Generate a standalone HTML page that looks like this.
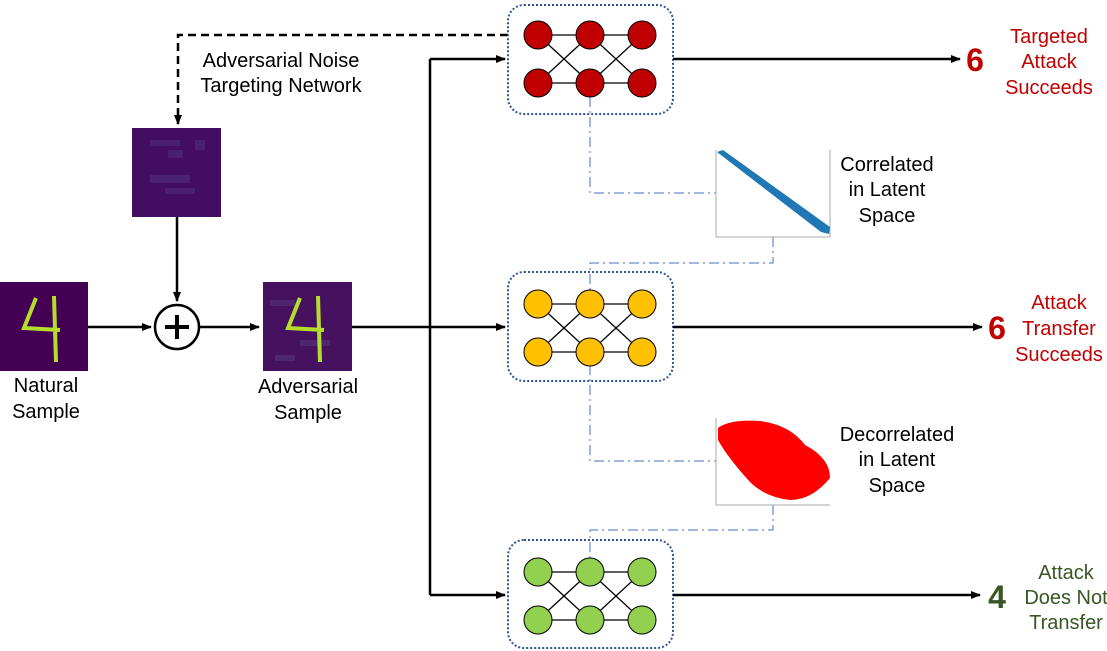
<!DOCTYPE html>
<html><head><style>body{margin:0;background:#fff}svg{display:block}text{font-family:"Liberation Sans",sans-serif}</style></head><body>
<svg width="1107" height="651" viewBox="0 0 1107 651" xmlns="http://www.w3.org/2000/svg">
<defs>
<marker id="a" markerWidth="10" markerHeight="10" refX="9" refY="5" orient="auto" markerUnits="userSpaceOnUse"><path d="M0,1 L10,5 L0,9 z" fill="#000"/></marker>
<g id="net">
<path d="M538,35 H642 M538,83 H642 M538,35 L590,83 M538,83 L590,35 M590,35 L642,83 M590,83 L642,35" stroke="#000" stroke-width="1.3" fill="none"/>
</g>
</defs>
<path d="M508,35 H178 V124" stroke="#000" stroke-width="2.5" fill="none" stroke-dasharray="8,5" marker-end="url(#a)"/>
<text x="281" y="67" font-size="20" text-anchor="middle">Adversarial Noise</text>
<text x="281" y="92" font-size="20" text-anchor="middle">Targeting Network</text>
<rect x="132" y="128" width="89" height="89" fill="#430d62"/>
<path d="M150,140h30v6h-30zM168,150h15v8h-15zM150,175h40v8h-40zM165,188h30v6h-30zM195,140h10v10h-10z" fill="#4b1f72"/>
<path d="M177,217 V301" stroke="#000" stroke-width="2.5" marker-end="url(#a)"/>
<rect x="0" y="282" width="88" height="89" fill="#440154"/>
<path d="M36,298 L24,328 L60,330 M54,296 L56,362" stroke="#b5de2b" stroke-width="4" fill="none"/>
<text x="46" y="392" font-size="20" text-anchor="middle">Natural</text>
<text x="46" y="418" font-size="20" text-anchor="middle">Sample</text>
<path d="M88,327 H151" stroke="#000" stroke-width="2.5" marker-end="url(#a)"/>
<circle cx="177" cy="327" r="22" fill="#fff" stroke="#000" stroke-width="2.5"/>
<path d="M165,327 H189 M177,315 V339" stroke="#000" stroke-width="4"/>
<path d="M199,327 H259" stroke="#000" stroke-width="2.5" marker-end="url(#a)"/>
<rect x="263" y="282" width="89" height="89" fill="#46125f"/>
<path d="M270,300h25v6h-25zM300,340h30v6h-30zM275,355h20v6h-20z" fill="#4f2670"/>
<path d="M300,298 L288,328 L324,330 M318,296 L320,362" stroke="#b5de2b" stroke-width="4" fill="none"/>
<text x="308" y="393" font-size="20" text-anchor="middle">Adversarial</text>
<text x="308" y="419" font-size="20" text-anchor="middle">Sample</text>
<path d="M352,327 H430" stroke="#000" stroke-width="2.5" fill="none"/>
<path d="M430,59 V595" stroke="#000" stroke-width="2.5" fill="none"/>
<path d="M430,59 H505" stroke="#000" stroke-width="2.5" marker-end="url(#a)"/>
<path d="M430,327 H505" stroke="#000" stroke-width="2.5" marker-end="url(#a)"/>
<path d="M430,595 H505" stroke="#000" stroke-width="2.5" marker-end="url(#a)"/>
<g stroke="#4472c4" stroke-width="1" fill="none" stroke-dasharray="10,4,2,4">
<path d="M590,97 V193 H716"/><path d="M773,237 V263 H590 V290"/>
<path d="M590,365 V461 H716"/><path d="M773,505 V530 H590 V558"/>
</g>
<rect x="508" y="5" width="165" height="109" rx="16" fill="none" stroke="#2f5597" stroke-width="2" stroke-dasharray="2,2"/>
<use href="#net"/>
<g fill="#c00000" stroke="#000" stroke-width="1"><circle cx="538" cy="35" r="14"/><circle cx="590" cy="35" r="14"/><circle cx="642" cy="35" r="14"/><circle cx="538" cy="83" r="14"/><circle cx="590" cy="83" r="14"/><circle cx="642" cy="83" r="14"/></g>
<rect x="508" y="272" width="165" height="109" rx="16" fill="none" stroke="#2f5597" stroke-width="2" stroke-dasharray="2,2"/>
<use href="#net" y="269"/>
<g fill="#ffc000" stroke="#000" stroke-width="1"><circle cx="538" cy="304" r="14"/><circle cx="590" cy="304" r="14"/><circle cx="642" cy="304" r="14"/><circle cx="538" cy="352" r="14"/><circle cx="590" cy="352" r="14"/><circle cx="642" cy="352" r="14"/></g>
<rect x="508" y="540" width="165" height="108" rx="16" fill="none" stroke="#2f5597" stroke-width="2" stroke-dasharray="2,2"/>
<use href="#net" y="537"/>
<g fill="#92d050" stroke="#000" stroke-width="1"><circle cx="538" cy="572" r="14"/><circle cx="590" cy="572" r="14"/><circle cx="642" cy="572" r="14"/><circle cx="538" cy="620" r="14"/><circle cx="590" cy="620" r="14"/><circle cx="642" cy="620" r="14"/></g>
<path d="M673,59 H960" stroke="#000" stroke-width="2.5" marker-end="url(#a)"/>
<path d="M673,327 H982" stroke="#000" stroke-width="2.5" marker-end="url(#a)"/>
<path d="M673,595 H980" stroke="#000" stroke-width="2.5" marker-end="url(#a)"/>
<text x="975" y="71" font-size="32" font-weight="bold" fill="#c00000" text-anchor="middle">6</text>
<g font-size="20" fill="#c00000" text-anchor="middle"><text x="1049" y="43">Targeted</text><text x="1049" y="68">Attack</text><text x="1049" y="94">Succeeds</text></g>
<text x="997" y="339" font-size="32" font-weight="bold" fill="#c00000" text-anchor="middle">6</text>
<g font-size="20" fill="#c00000" text-anchor="middle"><text x="1059" y="309">Attack</text><text x="1059" y="335">Transfer</text><text x="1059" y="361">Succeeds</text></g>
<text x="997" y="608" font-size="32" font-weight="bold" fill="#375623" text-anchor="middle">4</text>
<g font-size="20" fill="#375623" text-anchor="middle"><text x="1066" y="579">Attack</text><text x="1066" y="604">Does Not</text><text x="1066" y="629">Transfer</text></g>
<path d="M716,150 V237 H830 V150" stroke="#aaa" stroke-width="1" fill="none"/>
<path d="M717,152 L723,150 L830,227 L829,234 L821,232 Z" fill="#1f77b4"/>
<g font-size="20" text-anchor="middle"><text x="887" y="171">Correlated</text><text x="887" y="196">in Latent</text><text x="887" y="222">Space</text></g>
<path d="M716,418 V505 H830" stroke="#aaa" stroke-width="1" fill="none"/>
<path d="M718,428 Q730,419 760,421 Q790,425 805,445 Q830,458 830,478 Q812,500 790,500 Q765,497 750,482 Q728,458 718,440 Z" fill="#ff0000"/>
<g font-size="20" text-anchor="middle"><text x="897" y="441">Decorrelated</text><text x="897" y="466">in Latent</text><text x="897" y="492">Space</text></g>
</svg>
</body></html>
